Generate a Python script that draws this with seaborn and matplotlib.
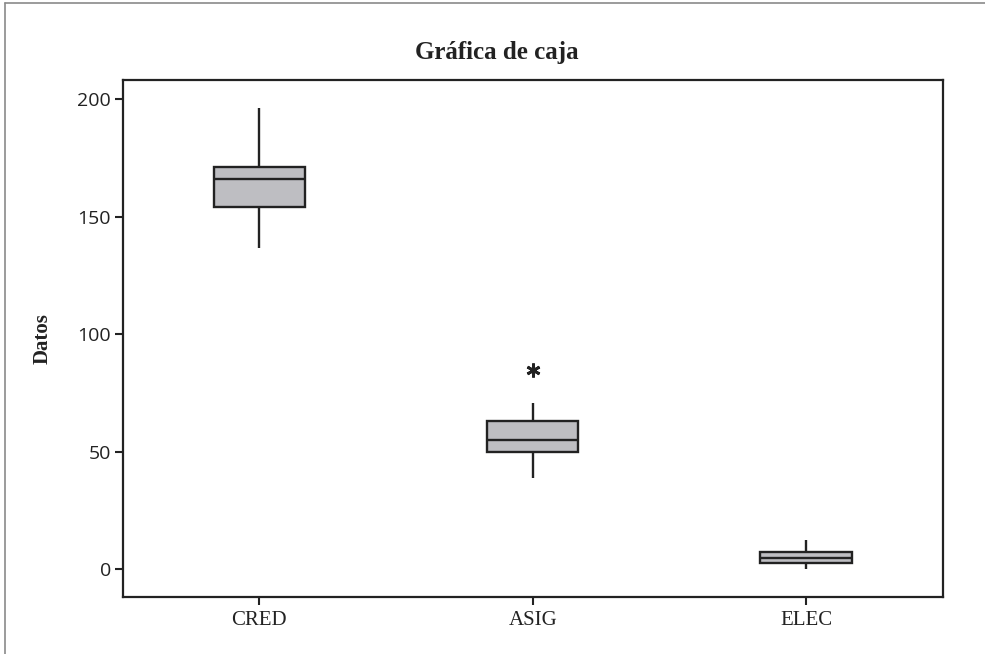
import matplotlib
matplotlib.use("Agg")
import matplotlib.pyplot as plt
from matplotlib.lines import Line2D
import seaborn as sns
import pandas as pd

# ---- data ----
categories = ["CRED", "ASIG", "ELEC"]
cred = [136.9, 154.0, 166.0, 171.3, 196.2]
asig = [38.9, 49.8, 49.8, 55.1, 55.1, 63.1, 63.1, 70.6, 84.8]
elec = [0.0, 2.6, 4.9, 7.2, 12.5]
y_ticks = [0, 50, 100, 150, 200]
title = "Gráfica de caja"
y_label = "Datos"

df = pd.DataFrame({
    "grupo": ["CRED"] * len(cred) + ["ASIG"] * len(asig) + ["ELEC"] * len(elec),
    "valor": cred + asig + elec,
})

sns.set_theme(style="white")
plt.rcParams["font.family"] = ["DejaVu Sans"]

fig = plt.figure(figsize=(9.85, 6.54), dpi=100)
ax = fig.add_axes([122.7 / 985, 1 - 596.7 / 654, (942.7 - 122.7) / 985, (596.7 - 80) / 654])

edge = "#222222"
sns.boxplot(
    data=df, x="grupo", y="valor", order=categories, ax=ax,
    width=0.335, color="#bebec2", linecolor=edge, linewidth=1.7,
    showcaps=False, whis=1.5, saturation=1,
    boxprops=dict(facecolor="#bebec2", edgecolor=edge, linewidth=1.7),
    whiskerprops=dict(color=edge, linewidth=1.7),
    medianprops=dict(color=edge, linewidth=1.7),
    flierprops=dict(marker=(6, 2, 0), markersize=10, markeredgewidth=2.0,
                    markeredgecolor=edge, markerfacecolor=edge),
)

ax.set_xlim(-0.5, 2.5)
ax.set_ylim(-11.7, 208.2)
ax.set_yticks(y_ticks)
ax.set_yticklabels([str(v) for v in y_ticks], fontsize=14, family="Open Sans", color="#222222")
ax.set_xticks(range(len(categories)))
ax.set_xticklabels(categories, fontsize=15, family="Liberation Serif", color="#222222")
ax.tick_params(axis="both", which="major", direction="out", length=5.5, width=1.5,
               color=edge, left=True, bottom=True)
ax.tick_params(axis="y", pad=3)
ax.tick_params(axis="x", pad=5)
ax.set_xlabel("")
ax.set_ylabel(y_label, fontsize=15, family="Liberation Serif", fontweight="bold", color="#222222")
ax.yaxis.set_label_coords((53 - 122.7) / 820, 0.5)

for s in ax.spines.values():
    s.set_visible(True)
    s.set_color(edge)
    s.set_linewidth(1.6)
ax.grid(False)
ax.set_facecolor("white")

fig.text(497 / 985, 1 - 59.3 / 654, title, ha="center", va="baseline",
         fontsize=18, family="Liberation Serif", fontweight="bold", color="#222222")

# outer frame lines (top and left) as in the reference scan
fig.add_artist(Line2D([5 / 985, 5 / 985], [0, 1 - 2.5 / 654], transform=fig.transFigure,
                      color="#8a8a8a", linewidth=1.2))
fig.add_artist(Line2D([5 / 985, 1], [1 - 2.5 / 654, 1 - 2.5 / 654], transform=fig.transFigure,
                      color="#8a8a8a", linewidth=1.2))

fig.savefig("out.png", dpi=100)
